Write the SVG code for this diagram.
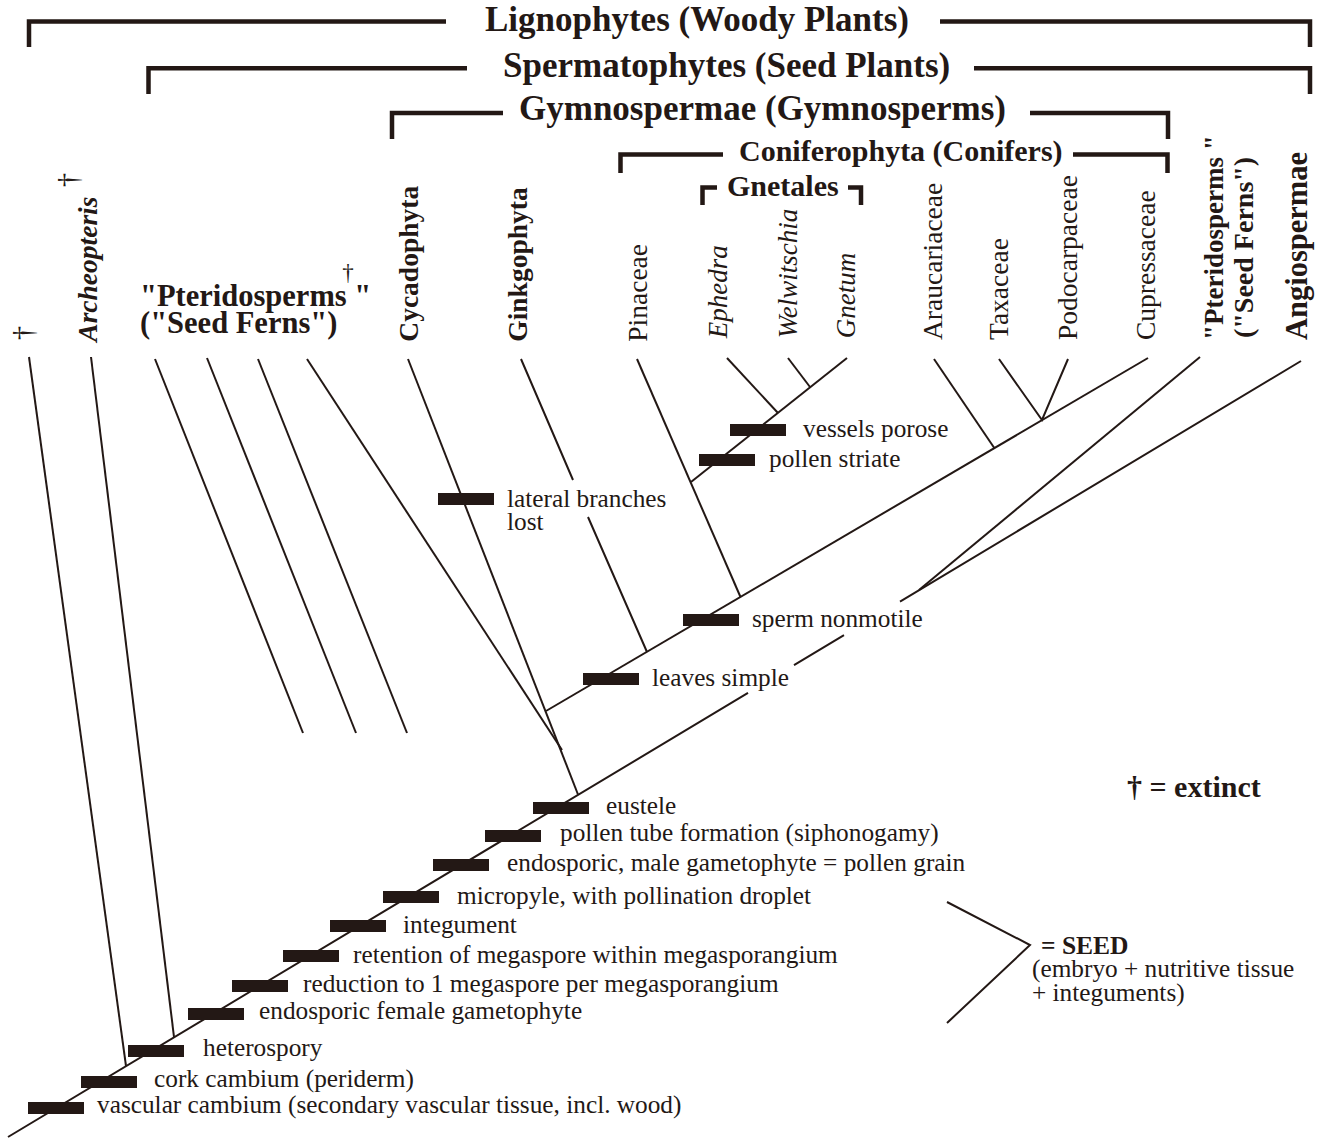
<svg xmlns="http://www.w3.org/2000/svg" width="1323" height="1138" viewBox="0 0 1323 1138">
<style>
text { font-family: "Liberation Serif", "Times New Roman", serif; fill: #231815; }
.t { font-size: 35px; font-weight: bold; }
.st { font-size: 30px; font-weight: bold; }
.nb { font-size: 27.5px; font-weight: bold; }
.nbi { font-size: 27.5px; font-weight: bold; font-style: italic; }
.nr { font-size: 27.5px; }
.ni { font-size: 27px; font-style: italic; }
.pb { font-size: 30.5px; font-weight: bold; }
.lab { font-size: 25.3px; }
.dg { font-size: 29px; }
.br { fill: none; stroke: #231815; stroke-width: 4.5; }
.ln { fill: none; stroke: #231815; stroke-width: 2; }
.bar { fill: #231815; }
</style>
<rect width="1323" height="1138" fill="#ffffff"/>

<g id="clade-brackets">
  <g id="lignophytes">
    <path class="br" d="M29,47 V21.5 H446 M940,21.5 H1310 V47"/>
    <text class="t" x="485" y="31">Lignophytes (Woody Plants)</text>
  </g>
  <g id="spermatophytes">
    <path class="br" d="M148.5,94 V68.3 H467 M974,68.3 H1310 V94"/>
    <text class="t" x="503" y="77">Spermatophytes (Seed Plants)</text>
  </g>
  <g id="gymnospermae">
    <path class="br" d="M392,139 V113 H503 M1030,113 H1168 V139"/>
    <text class="t" x="519" y="120">Gymnospermae (Gymnosperms)</text>
  </g>
  <g id="coniferophyta">
    <path class="br" d="M620.5,173 V154.5 H723 M1073,154.5 H1167.5 V173"/>
    <text class="st" x="739" y="161">Coniferophyta (Conifers)</text>
  </g>
  <g id="gnetales">
    <path class="br" d="M702.5,205 V187.5 H717 M848,187.5 H861 V205"/>
    <text class="st" x="727" y="196">Gnetales</text>
  </g>
</g>

<g id="taxa">
  <g id="taxon-extinct-unnamed">
    <text class="dg" transform="translate(32.5,333) rotate(-90)" text-anchor="middle">†</text>
  </g>
  <g id="taxon-archeopteris">
    <text class="nbi" transform="translate(96.7,341.7) rotate(-90)">Archeopteris</text>
    <text class="dg" transform="translate(77.5,180) rotate(-90)" text-anchor="middle">†</text>
  </g>
  <g id="taxon-pteridosperms-left">
    <text class="pb" x="140" y="306">"Pteridosperms "</text>
    <text class="pb" x="140" y="333">("Seed Ferns")</text>
    <text x="348" y="280" text-anchor="middle" font-size="23">†</text>
  </g>
  <g id="taxon-cycadophyta">
    <text class="nb" transform="translate(418.3,341.7) rotate(-90)">Cycadophyta</text>
  </g>
  <g id="taxon-ginkgophyta">
    <text class="nb" transform="translate(527,341.7) rotate(-90)">Ginkgophyta</text>
  </g>
  <g id="taxon-pinaceae">
    <text class="nr" transform="translate(646.7,341.7) rotate(-90)">Pinaceae</text>
  </g>
  <g id="taxon-ephedra">
    <text class="ni" transform="translate(727,338.3) rotate(-90)">Ephedra</text>
  </g>
  <g id="taxon-welwitschia">
    <text class="ni" transform="translate(797,338.3) rotate(-90)">Welwitschia</text>
  </g>
  <g id="taxon-gnetum">
    <text class="ni" transform="translate(855,338.3) rotate(-90)">Gnetum</text>
  </g>
  <g id="taxon-araucariaceae">
    <text class="nr" transform="translate(941.7,340) rotate(-90)">Araucariaceae</text>
  </g>
  <g id="taxon-taxaceae">
    <text class="nr" transform="translate(1008.3,340) rotate(-90)">Taxaceae</text>
  </g>
  <g id="taxon-podocarpaceae">
    <text class="nr" transform="translate(1076.7,340) rotate(-90)">Podocarpaceae</text>
  </g>
  <g id="taxon-cupressaceae">
    <text class="nr" transform="translate(1155,340) rotate(-90)">Cupressaceae</text>
  </g>
  <g id="taxon-pteridosperms-right">
    <text class="nb" transform="translate(1223.3,340) rotate(-90)" style="font-size:27px">"Pteridosperms "</text>
    <text class="nb" transform="translate(1253.3,338) rotate(-90)" style="font-size:28px">("Seed Ferns")</text>
  </g>
  <g id="taxon-angiospermae">
    <text class="nb" transform="translate(1306.7,340) rotate(-90)" style="font-size:30.5px">Angiospermae</text>
  </g>
</g>

<g id="connectors">
  <path class="ln" d="M8,1137 L748,692.9 M794,665.2 L844,635.2 M900,601.6 L1301,361"/>
  <path class="ln" d="M29,357 L126,1066"/>
  <path class="ln" d="M91,357 L174,1037"/>
  <path class="ln" d="M155,359 L303,733"/>
  <path class="ln" d="M207,358 L356,733"/>
  <path class="ln" d="M258,359 L407,733"/>
  <path class="ln" d="M307,359 L562,750"/>
  <path class="ln" d="M408,359 L578,794.5"/>
  <path class="ln" d="M546,711 L1148,358"/>
  <path class="ln" d="M521,359 L573,480 M588,517 L647,652"/>
  <path class="ln" d="M637,359 L740.5,597"/>
  <path class="ln" d="M691,482 L847,358"/>
  <path class="ln" d="M727,358 L778,413"/>
  <path class="ln" d="M788,358 L810,387"/>
  <path class="ln" d="M934,359 L994.3,448"/>
  <path class="ln" d="M999,359 L1042,420 L1068,359"/>
  <path class="ln" d="M1200,357 L919,590"/>
  <polyline class="ln" points="947,902 1030,945 947,1023"/>
</g>

<g id="characters">
  <rect class="bar" x="28" y="1102" width="56" height="12"/>
  <text class="lab" x="97" y="1113">vascular cambium (secondary vascular tissue, incl. wood)</text>
  <rect class="bar" x="81" y="1076" width="56" height="12"/>
  <text class="lab" x="154" y="1087">cork cambium (periderm)</text>
  <rect class="bar" x="128" y="1045" width="56" height="12"/>
  <text class="lab" x="203" y="1056">heterospory</text>
  <rect class="bar" x="188" y="1008" width="56" height="12"/>
  <text class="lab" x="259" y="1019">endosporic female gametophyte</text>
  <rect class="bar" x="232" y="980" width="56" height="12"/>
  <text class="lab" x="303" y="992">reduction to 1 megaspore per megasporangium</text>
  <rect class="bar" x="283" y="950" width="56" height="12"/>
  <text class="lab" x="353" y="963">retention of megaspore within megasporangium</text>
  <rect class="bar" x="330" y="920" width="56" height="12"/>
  <text class="lab" x="403" y="933">integument</text>
  <rect class="bar" x="383" y="891" width="56" height="12"/>
  <text class="lab" x="457" y="904">micropyle, with pollination droplet</text>
  <rect class="bar" x="433" y="859" width="56" height="12"/>
  <text class="lab" x="507" y="871">endosporic, male gametophyte = pollen grain</text>
  <rect class="bar" x="485" y="830" width="56" height="12"/>
  <text class="lab" x="560" y="841">pollen tube formation (siphonogamy)</text>
  <rect class="bar" x="533" y="802" width="56" height="12"/>
  <text class="lab" x="606" y="814">eustele</text>
  <rect class="bar" x="583" y="673" width="56" height="12"/>
  <text class="lab" x="652" y="686">leaves simple</text>
  <rect class="bar" x="683" y="614" width="56" height="12"/>
  <text class="lab" x="752" y="627">sperm nonmotile</text>
  <rect class="bar" x="438" y="493" width="56" height="12"/>
  <text class="lab" x="507" y="507">lateral branches</text>
  <text class="lab" x="507" y="530">lost</text>
  <rect class="bar" x="699" y="454" width="56" height="12"/>
  <text class="lab" x="769" y="467">pollen striate</text>
  <rect class="bar" x="730" y="424" width="56" height="12"/>
  <text class="lab" x="803" y="437">vessels porose</text>
</g>

<g id="seed-note">
  <text x="1041" y="954" style="font-size:25.5px;font-weight:bold">= SEED</text>
  <text class="lab" x="1032" y="977">(embryo + nutritive tissue</text>
  <text class="lab" x="1032" y="1001">+ integuments)</text>
</g>

<g id="legend">
  <text x="1127" y="797" style="font-size:30px;font-weight:bold">† = extinct</text>
</g>
</svg>
